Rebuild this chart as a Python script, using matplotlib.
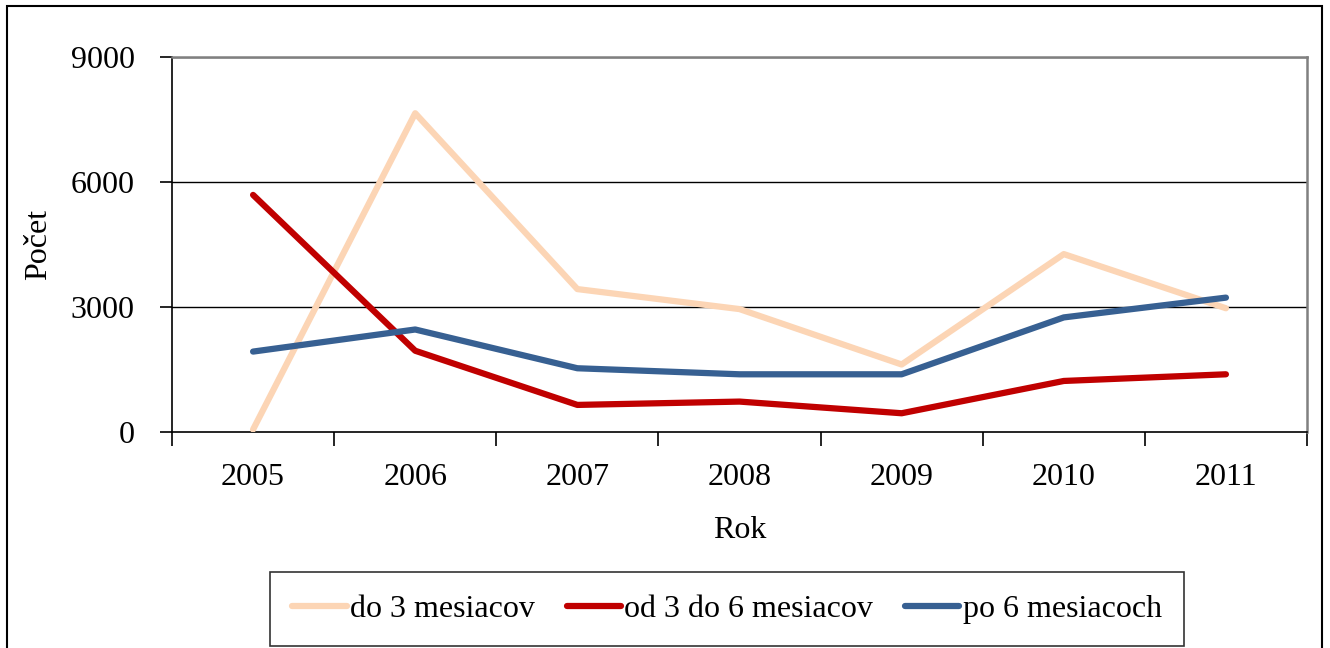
import numpy as np
import matplotlib.pyplot as plt
from matplotlib.patches import Rectangle

plt.rcParams['font.family'] = ['Liberation Serif', 'DejaVu Serif']

# Data
years = ['2005', '2006', '2007', '2008', '2009', '2010', '2011']
do3 = [60, 7650, 3430, 2950, 1620, 4270, 2970]
od3do6 = [5690, 1950, 650, 730, 450, 1225, 1385]
po6 = [1930, 2460, 1530, 1385, 1385, 2750, 3225]
labels = ['do 3 mesiacov', 'od 3 do 6 mesiacov', 'po 6 mesiacoch']
yticks = [0, 3000, 6000, 9000]

fs = 23
x = np.arange(len(years))

fig = plt.figure(figsize=(13.3, 6.48), dpi=100)
ax = fig.add_axes([172/1330, 1 - 432/648, 1135/1330, 375/648])

# outer frame of the chart
fig.patches.append(Rectangle((7/1330, -0.02), 1315/1330, 1.02 - 6/648,
                             transform=fig.transFigure, fill=False,
                             edgecolor='black', lw=1.5))

for yv in yticks[1:]:
    ax.axhline(yv, color='black', lw=1, zorder=1)

lw = 4.5
l1, = ax.plot(x, do3, color='#FCD5B5', lw=lw, solid_capstyle='round', zorder=3)
l2, = ax.plot(x, od3do6, color='#C00000', lw=lw, solid_capstyle='round', zorder=3)
l3, = ax.plot(x, po6, color='#376092', lw=lw, solid_capstyle='round', zorder=3)

ax.set_xlim(-0.5, len(years) - 0.5)
ax.set_ylim(0, 9000)
ax.set_yticks(yticks)
ax.set_yticklabels([str(v) for v in yticks], fontsize=fs)
ax.set_xticks(x)
ax.set_xticklabels(years, fontsize=fs)
ax.set_xticks(np.arange(len(years) + 1) - 0.5, minor=True)
ax.tick_params(axis='x', which='major', length=0, pad=22)
ax.tick_params(axis='x', which='minor', length=10, width=1.2, direction='out')
ax.tick_params(axis='y', length=9, width=1.2, direction='out', pad=18)

for s in ['left', 'bottom']:
    ax.spines[s].set_color('black')
    ax.spines[s].set_linewidth(1.2)
for s in ['top', 'right']:
    ax.spines[s].set_color('#808080')
    ax.spines[s].set_linewidth(1.8)

ax.set_xlabel('Rok', fontsize=fs, va='center')
ax.xaxis.set_label_coords(0.5, (432 - 531) / 375)
ax.set_ylabel('Počet', fontsize=fs, va='center')
ax.yaxis.set_label_coords((39 - 172) / 1135, 0.5)

leg = fig.legend([l1, l2, l3], labels, loc='center', ncol=3,
                 bbox_to_anchor=(727/1330, 1 - 609/648), fontsize=fs,
                 frameon=True, fancybox=False, handlelength=1.7,
                 handletextpad=0.1, columnspacing=1.0, borderpad=0.7)
leg.get_frame().set_edgecolor('black')
leg.get_frame().set_linewidth(1.2)

fig.savefig('out.png', dpi=100)
